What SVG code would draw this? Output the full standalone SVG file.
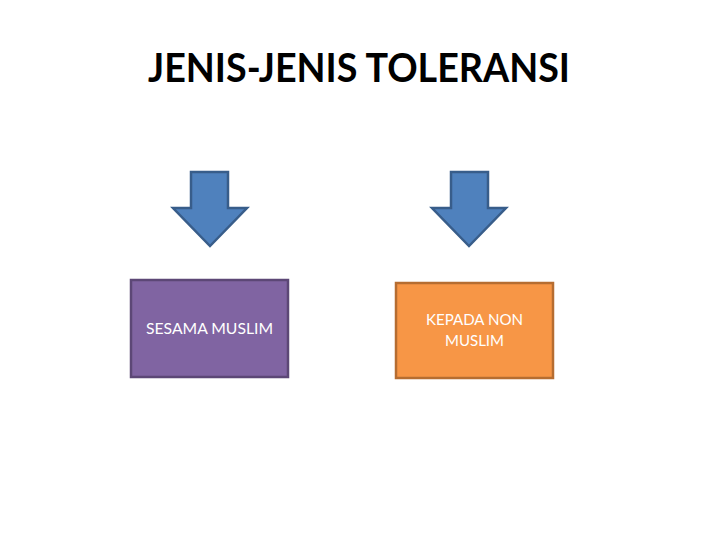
<svg xmlns="http://www.w3.org/2000/svg" width="720" height="540" viewBox="0 0 720 540">
<style>
.arrow{fill:#4F81BD;stroke:#385D8A;stroke-width:2.5;stroke-linejoin:miter}
.lbl{font-family:Lato,"Open Sans","Liberation Sans",sans-serif;font-size:15px;fill:#FFFFFF;text-anchor:middle}
.title{font-family:Lato,"Open Sans","Liberation Sans",sans-serif;font-weight:bold;font-size:41px;fill:#000000}
</style>
<rect width="720" height="540" fill="#FFFFFF"/>
<g id="title"><text class="title" x="148" y="82" textLength="422" lengthAdjust="spacingAndGlyphs">JENIS-JENIS TOLERANSI</text></g>
<g id="connectors">
<polygon class="arrow" points="191,172 228,172 228,208 247,208 210,246 173,208 191,208"/>
<polygon class="arrow" points="451,172 488,172 488,208 506,208 469,246 432,208 451,208"/>
</g>
<g id="sesama">
<rect x="131" y="280" width="157" height="97" fill="#8064A2" stroke="#5C4776" stroke-width="2.5"/>
<text class="lbl" x="209.5" y="334" textLength="127" lengthAdjust="spacingAndGlyphs">SESAMA MUSLIM</text>
</g>
<g id="nonmuslim">
<rect x="396" y="283" width="157" height="95" fill="#F79646" stroke="#B66D31" stroke-width="2.5"/>
<text class="lbl" x="474.5" y="325" textLength="97" lengthAdjust="spacingAndGlyphs">KEPADA NON</text>
<text class="lbl" x="474.5" y="346" textLength="59" lengthAdjust="spacingAndGlyphs">MUSLIM</text>
</g>
</svg>
